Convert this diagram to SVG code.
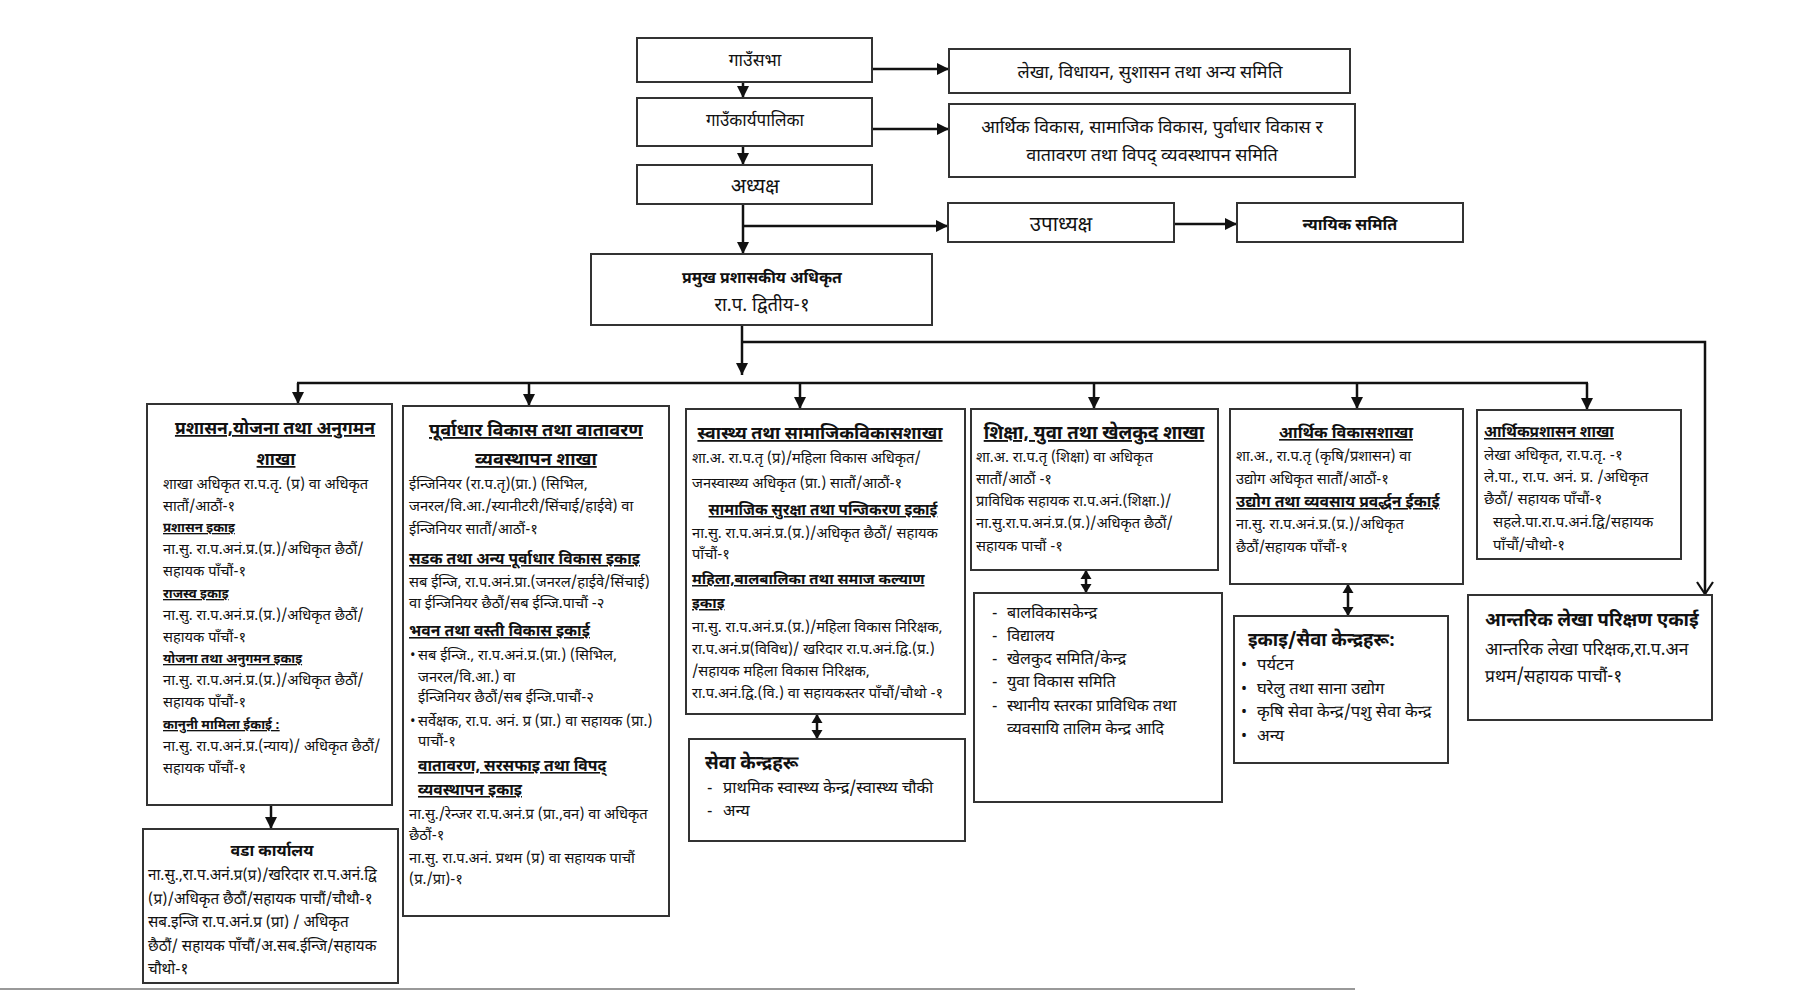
<svg xmlns="http://www.w3.org/2000/svg" width="1795" height="993" viewBox="0 0 1795 993">
<style>
svg{font-family:"Noto Sans Devanagari","Noto Sans",sans-serif;font-size:14.7px}
.bg{fill:#fff}
.box{fill:#fff;stroke:#333;stroke-width:2}
text{fill:#111}
.c{text-anchor:middle}
.h{font-weight:bold;text-decoration:underline}
.b{font-weight:bold}
.conn line,.conn path,.conn polyline{stroke:#111;stroke-width:2.5;fill:none}
</style>
<defs>
<marker id="ah" markerUnits="userSpaceOnUse" markerWidth="14" markerHeight="14" refX="12" refY="7" orient="auto-start-reverse" viewBox="0 0 14 14"><path d="M0,1 L12,7 L0,13 Z" fill="#111"/></marker>
<marker id="ah2" markerUnits="userSpaceOnUse" markerWidth="12" markerHeight="12" refX="9" refY="6" orient="auto-start-reverse" viewBox="0 0 12 12"><path d="M0,0.5 L9,6 L0,11.5 Z" fill="#111"/></marker>
<marker id="av" markerUnits="userSpaceOnUse" markerWidth="20" markerHeight="20" refX="14" refY="10" orient="auto" viewBox="0 0 20 20"><path d="M2,2 L14,10 L2,18" fill="none" stroke="#111" stroke-width="2.2"/></marker>
</defs>
<rect class="bg" x="0" y="0" width="1795" height="993"/>

<g class="conn" id="connectors">
<line x1="743" y1="82" x2="743" y2="98" marker-end="url(#ah)"/>
<line x1="743" y1="146" x2="743" y2="165" marker-end="url(#ah)"/>
<line x1="743" y1="204" x2="743" y2="254" marker-end="url(#ah)"/>
<line x1="743" y1="226" x2="948" y2="226" marker-end="url(#ah)"/>
<line x1="1174" y1="224" x2="1237" y2="224" marker-end="url(#ah)"/>
<line x1="872" y1="69" x2="949" y2="69" marker-end="url(#ah)"/>
<line x1="872" y1="129" x2="949" y2="129" marker-end="url(#ah)"/>
<line x1="742" y1="325" x2="742" y2="375" marker-end="url(#ah)"/>
<line x1="297" y1="383" x2="1588" y2="383"/>
<line x1="298" y1="383" x2="298" y2="404" marker-end="url(#ah)"/>
<line x1="529" y1="383" x2="529" y2="406" marker-end="url(#ah)"/>
<line x1="800" y1="383" x2="800" y2="409" marker-end="url(#ah)"/>
<line x1="1094" y1="383" x2="1094" y2="409" marker-end="url(#ah)"/>
<line x1="1357" y1="383" x2="1357" y2="409" marker-end="url(#ah)"/>
<line x1="1587" y1="383" x2="1587" y2="410" marker-end="url(#ah)"/>
<polyline points="743,342 1705,342 1705,594" marker-end="url(#av)"/>
<line x1="817" y1="714" x2="817" y2="739" marker-start="url(#ah2)" marker-end="url(#ah2)"/>
<line x1="1086" y1="570" x2="1086" y2="593" marker-start="url(#ah2)" marker-end="url(#ah2)"/>
<line x1="1348" y1="584" x2="1348" y2="616" marker-start="url(#ah2)" marker-end="url(#ah2)"/>
<line x1="271" y1="805" x2="271" y2="829" marker-end="url(#ah)"/>
</g>

<g id="gaunsabha"><rect class="box" x="637" y="38" width="235" height="44"/><text class="c" x="755" y="66" font-size="17.5">गाउँसभा</text></g>
<g id="lekha-samiti"><rect class="box" x="949" y="49" width="401" height="44"/><text class="c" x="1150" y="78" font-size="18">लेखा, विधायन, सुशासन तथा अन्य समिति</text></g>
<g id="gaunkaryapalika"><rect class="box" x="637" y="98" width="235" height="48"/><text class="c" x="755" y="126" font-size="17">गाउँकार्यपालिका</text></g>
<g id="arthik-samiti"><rect class="box" x="949" y="104" width="406" height="73"/><text class="c" x="1152" y="133" font-size="18">आर्थिक विकास, सामाजिक विकास, पुर्वाधार विकास र</text><text class="c" x="1152" y="161" font-size="18">वातावरण तथा विपद् व्यवस्थापन समिति</text></g>
<g id="adhyaksha"><rect class="box" x="637" y="165" width="235" height="39"/><text class="c" x="755" y="193" font-size="20">अध्यक्ष</text></g>
<g id="upadhyaksha"><rect class="box" x="948" y="203" width="226" height="39"/><text class="c" x="1061" y="231" font-size="20.5">उपाध्यक्ष</text></g>
<g id="nyayik"><rect class="box" x="1237" y="203" width="226" height="39"/><text class="c b" x="1350" y="230" font-size="16.2">न्यायिक समिति</text></g>
<g id="pramukh"><rect class="box" x="591" y="254" width="341" height="71"/><text class="c b" x="762" y="283" font-size="15.8">प्रमुख प्रशासकीय अधिकृत</text><text class="c" x="762" y="311" font-size="18.5">रा.प. द्वितीय-१</text></g>

<g id="prashasan-shakha"><rect class="box" x="147" y="404" width="245" height="401"/>
<text class="c h" x="275" y="434" font-size="17.5">प्रशासन,योजना तथा अनुगमन</text>
<text class="c h" x="276" y="465" font-size="17.5">शाखा</text>
<text x="163" y="489">शाखा अधिकृत रा.प.तृ. (प्र) वा अधिकृत</text>
<text x="163" y="511">सातौं/आठौं-१</text>
<text class="h" x="163" y="532" font-size="13.2">प्रशासन इकाइ</text>
<text x="163" y="554">ना.सु. रा.प.अनं.प्र.(प्र.)/अधिकृत छैठौं/</text>
<text x="163" y="576">सहायक पाँचौं-१</text>
<text class="h" x="163" y="598" font-size="13.2">राजस्व इकाइ</text>
<text x="163" y="620">ना.सु. रा.प.अनं.प्र.(प्र.)/अधिकृत छैठौं/</text>
<text x="163" y="642">सहायक पाँचौं-१</text>
<text class="h" x="163" y="663" font-size="13.2">योजना तथा अनुगमन इकाइ</text>
<text x="163" y="685">ना.सु. रा.प.अनं.प्र.(प्र.)/अधिकृत छैठौं/</text>
<text x="163" y="707">सहायक पाँचौं-१</text>
<text class="h" x="163" y="729" font-size="13.2">कानुनी मामिला ईकाई :</text>
<text x="163" y="751">ना.सु. रा.प.अनं.प्र.(न्याय)/ अधिकृत छैठौं/</text>
<text x="163" y="773">सहायक पाँचौं-१</text>
</g>

<g id="wada-karyalaya"><rect class="box" x="143" y="829" width="255" height="154"/>
<text class="c b" x="272" y="856" font-size="16.1">वडा कार्यालय</text>
<text x="148" y="880" font-size="15.2">ना.सु.,रा.प.अनं.प्र(प्र)/खरिदार रा.प.अनं.द्वि</text>
<text x="148" y="904" font-size="15.2">(प्र)/अधिकृत छैठौं/सहायक पाचौं/चौथौ-१</text>
<text x="148" y="927" font-size="15.2">सब.इन्जि रा.प.अनं.प्र (प्रा) / अधिकृत</text>
<text x="148" y="951" font-size="15.2">छैठौं/ सहायक पाँचौं/अ.सब.ईन्जि/सहायक</text>
<text x="148" y="974" font-size="15.2">चौथो-१</text>
</g>

<g id="purwadhar-shakha"><rect class="box" x="403" y="406" width="266" height="510"/>
<text class="c h" x="536" y="436" font-size="18.2">पूर्वाधार विकास तथा वातावरण</text>
<text class="c h" x="536" y="465" font-size="18.2">व्यवस्थापन शाखा</text>
<text x="409" y="489">ईन्जिनियर (रा.प.तृ)(प्रा.) (सिभिल,</text>
<text x="409" y="511">जनरल/वि.आ./स्यानीटरी/सिंचाई/हाईवे) वा</text>
<text x="409" y="534">ईन्जिनियर सातौं/आठौं-१</text>
<text class="h" x="409" y="564" font-size="15.7">सडक तथा अन्य पूर्वाधार विकास इकाइ</text>
<text x="409" y="587">सब ईन्जि, रा.प.अनं.प्रा.(जनरल/हाईवे/सिंचाई)</text>
<text x="409" y="608">वा ईन्जिनियर छैठौं/सब ईन्जि.पाचौं -२</text>
<text class="h" x="409" y="636" font-size="15.7">भवन तथा वस्ती विकास इकाई</text>
<text x="410" y="660">•</text><text x="418" y="660">सब ईन्जि., रा.प.अनं.प्र.(प्रा.) (सिभिल,</text>
<text x="418" y="682">जनरल/वि.आ.) वा</text>
<text x="418" y="702">ईन्जिनियर छैठौं/सब ईन्जि.पाचौं-२</text>
<text x="410" y="726">•</text><text x="418" y="726">सर्वेक्षक, रा.प. अनं. प्र (प्रा.) वा सहायक (प्रा.)</text>
<text x="418" y="746">पाचौं-१</text>
<text class="h" x="418" y="771" font-size="15.7">वातावरण, सरसफाइ तथा विपद्</text>
<text class="h" x="418" y="795" font-size="15.7">व्यवस्थापन इकाइ</text>
<text x="409" y="819">ना.सु./रेन्जर रा.प.अनं.प्र (प्रा.,वन) वा अधिकृत</text>
<text x="409" y="840">छैठौं-१</text>
<text x="409" y="863">ना.सु. रा.प.अनं. प्रथम (प्र) वा सहायक पाचौं</text>
<text x="409" y="884">(प्र./प्रा)-१</text>
</g>

<g id="swasthya-shakha"><rect class="box" x="686" y="409" width="279" height="305"/>
<text class="c h" x="820" y="439" font-size="17.8">स्वास्थ्य तथा सामाजिकविकासशाखा</text>
<text x="692" y="463">शा.अ. रा.प.तृ (प्र)/महिला विकास अधिकृत/</text>
<text x="692" y="488">जनस्वास्थ्य अधिकृत (प्रा.) सातौं/आठौं-१</text>
<text class="c h" x="823" y="515" font-size="15.2">सामाजिक सुरक्षा तथा पन्जिकरण इकाई</text>
<text x="692" y="538">ना.सु. रा.प.अनं.प्र.(प्र.)/अधिकृत छैठौं/ सहायक</text>
<text x="692" y="559">पाँचौं-१</text>
<text class="h" x="692" y="584" font-size="15">महिला,बालबालिका तथा समाज कल्याण</text>
<text class="h" x="692" y="608" font-size="15">इकाइ</text>
<text x="692" y="632">ना.सु. रा.प.अनं.प्र.(प्र.)/महिला विकास निरिक्षक,</text>
<text x="692" y="654">रा.प.अनं.प्र(विविध)/ खरिदार रा.प.अनं.द्वि.(प्र.)</text>
<text x="692" y="676">/सहायक महिला विकास निरिक्षक,</text>
<text x="692" y="698">रा.प.अनं.द्वि.(वि.) वा सहायकस्तर पाँचौं/चौथो -१</text>
</g>

<g id="seva-kendra"><rect class="box" x="689" y="739" width="276" height="102"/>
<text class="b" x="705" y="769" font-size="18.6">सेवा केन्द्रहरू</text>
<text x="707" y="793" font-size="16">-</text><text x="723" y="793" font-size="16.3">प्राथमिक स्वास्थ्य केन्द्र/स्वास्थ्य चौकी</text>
<text x="707" y="816" font-size="16">-</text><text x="723" y="816" font-size="16.3">अन्य</text>
</g>

<g id="shiksha-shakha"><rect class="box" x="971" y="409" width="247" height="161"/>
<text class="c h" x="1094" y="439" font-size="18.6">शिक्षा, युवा तथा खेलकुद शाखा</text>
<text x="976" y="462">शा.अ. रा.प.तृ (शिक्षा) वा अधिकृत</text>
<text x="976" y="484">सातौं/आठौं -१</text>
<text x="976" y="506">प्राविधिक सहायक रा.प.अनं.(शिक्षा.)/</text>
<text x="976" y="528">ना.सु.रा.प.अनं.प्र.(प्र.)/अधिकृत छैठौं/</text>
<text x="976" y="551">सहायक पाचौं -१</text>
</g>

<g id="shiksha-kendra"><rect class="box" x="974" y="593" width="248" height="209"/>
<text x="992" y="618" font-size="16">-</text><text x="1007" y="618" font-size="16">बालविकासकेन्द्र</text>
<text x="992" y="641" font-size="16">-</text><text x="1007" y="641" font-size="16">विद्यालय</text>
<text x="992" y="664" font-size="16">-</text><text x="1007" y="664" font-size="16">खेलकुद समिति/केन्द्र</text>
<text x="992" y="687" font-size="16">-</text><text x="1007" y="687" font-size="16">युवा विकास समिति</text>
<text x="992" y="711" font-size="16">-</text><text x="1007" y="711" font-size="16">स्थानीय स्तरका प्राविधिक तथा</text>
<text x="1007" y="734" font-size="16">व्यवसायि तालिम केन्द्र आदि</text>
</g>

<g id="arthik-vikas-shakha"><rect class="box" x="1230" y="409" width="233" height="175"/>
<text class="c h" x="1346" y="438" font-size="16.3">आर्थिक विकासशाखा</text>
<text x="1236" y="461">शा.अ., रा.प.तृ (कृषि/प्रशासन) वा</text>
<text x="1236" y="484">उद्योग अधिकृत सातौं/आठौं-१</text>
<text class="h" x="1236" y="507" font-size="15.7">उद्योग तथा व्यवसाय प्रवर्द्धन ईकाई</text>
<text x="1236" y="529">ना.सु. रा.प.अनं.प्र.(प्र.)/अधिकृत</text>
<text x="1236" y="552">छैठौं/सहायक पाँचौं-१</text>
</g>

<g id="sewa-kendraharu"><rect class="box" x="1234" y="616" width="214" height="147"/>
<text class="b" x="1248" y="646" font-size="18.4">इकाइ/सैवा केन्द्रहरू:</text>
<text x="1241" y="670" font-size="16">•</text><text x="1257" y="670" font-size="16.6">पर्यटन</text>
<text x="1241" y="694" font-size="16">•</text><text x="1257" y="694" font-size="16.6">घरेलु तथा साना उद्योग</text>
<text x="1241" y="717" font-size="16">•</text><text x="1257" y="717" font-size="16.6">कृषि सेवा केन्द्र/पशु सेवा केन्द्र</text>
<text x="1241" y="741" font-size="16">•</text><text x="1257" y="741" font-size="16.6">अन्य</text>
</g>

<g id="arthik-prashasan-shakha"><rect class="box" x="1477" y="410" width="204" height="149"/>
<text class="h" x="1484" y="437" font-size="15.3">आर्थिकप्रशासन शाखा</text>
<text x="1484" y="460" font-size="15">लेखा अधिकृत, रा.प.तृ. -१</text>
<text x="1484" y="482" font-size="15">ले.पा., रा.प. अनं. प्र. /अधिकृत</text>
<text x="1484" y="504" font-size="15">छैठौं/ सहायक पाँचौं-१</text>
<text x="1493" y="527" font-size="15">सहले.पा.रा.प.अनं.द्वि/सहायक</text>
<text x="1493" y="550" font-size="15">पाँचौं/चौथो-१</text>
</g>

<g id="antarik-lekha"><rect class="box" x="1468" y="595" width="244" height="125"/>
<text class="b" x="1485" y="626" font-size="18.5">आन्तरिक लेखा परिक्षण एकाई</text>
<text x="1485" y="655" font-size="17.4">आन्तरिक लेखा परिक्षक,रा.प.अन</text>
<text x="1485" y="682" font-size="17.4">प्रथम/सहायक पाचौं-१</text>
</g>

<line x1="0" y1="989" x2="1355" y2="989" stroke="#999" stroke-width="2"/>
</svg>
